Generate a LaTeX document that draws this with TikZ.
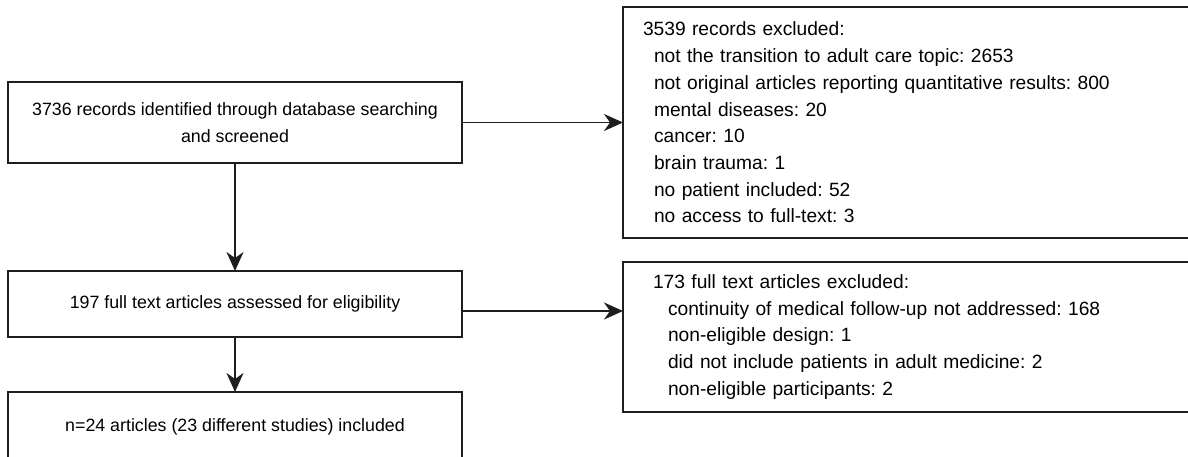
\documentclass[tikz,border=0pt]{standalone}
\usepackage{fontspec}
\setmainfont{Liberation Sans}
\frenchspacing
\usetikzlibrary{arrows.meta}
\definecolor{ln}{RGB}{30,30,30}
\tikzset{
  box/.style={draw=ln, line width=1.9pt, rectangle, inner sep=0pt, outer sep=0pt,
    font=\fontsize{17.8}{27}\selectfont, text=black},
  rbox/.style={box, font=\fontsize{19.2}{26.7}\selectfont, align=left, anchor=north west},
  conn/.style={draw=ln, line width=1.9pt, -{Stealth[length=19pt,width=17pt,inset=6pt]}}
}
\begin{document}
\begin{tikzpicture}[x=1pt,y=-1pt]
\useasboundingbox (0,0) rectangle (1188,457);
\clip (0,0) rectangle (1188,457);
\node[box, anchor=north west, minimum width=454pt, minimum height=81pt, align=center] (A) at (8,82)
  {3736 records identified through database searching\\and screened};
\node[box, anchor=north west, minimum width=454pt, minimum height=66pt, align=center] (C) at (8,271)
  {197 full text articles assessed for eligibility};
\node[box, anchor=north west, minimum width=454pt, minimum height=70pt, align=center] (D) at (8,392)
  {n=24 articles (23 different studies) included};
\node[rbox, minimum width=572pt, minimum height=231pt, inner xsep=20pt,
  text width=532pt] (B) at (623,7)
  {3539 records excluded:\\
   \hspace*{11pt}not the transition to adult care topic: 2653\\
   \hspace*{11pt}not original articles reporting quantitative results: 800\\
   \hspace*{11pt}mental diseases: 20\\
   \hspace*{11pt}cancer: 10\\
   \hspace*{11pt}brain trauma: 1\\
   \hspace*{11pt}no patient included: 52\\
   \hspace*{11pt}no access to full-text: 3};
\node[rbox, minimum width=572pt, minimum height=150pt, inner xsep=30pt,
  text width=512pt] (E) at (623,262)
  {173 full text articles excluded:\\
   \hspace*{15pt}continuity of medical follow-up not addressed: 168\\
   \hspace*{15pt}non-eligible design: 1\\
   \hspace*{15pt}did not include patients in adult medicine: 2\\
   \hspace*{15pt}non-eligible participants: 2};
\coordinate (cE) at ([yshift=-7pt]C.east);
\draw[conn] (A.east) -- (B.west |- A.east);
\draw[conn] (A.south) -- (C.north);
\draw[conn] (cE) -- (E.west |- cE);
\draw[conn] (C.south) -- (D.north);
\end{tikzpicture}
\end{document}
